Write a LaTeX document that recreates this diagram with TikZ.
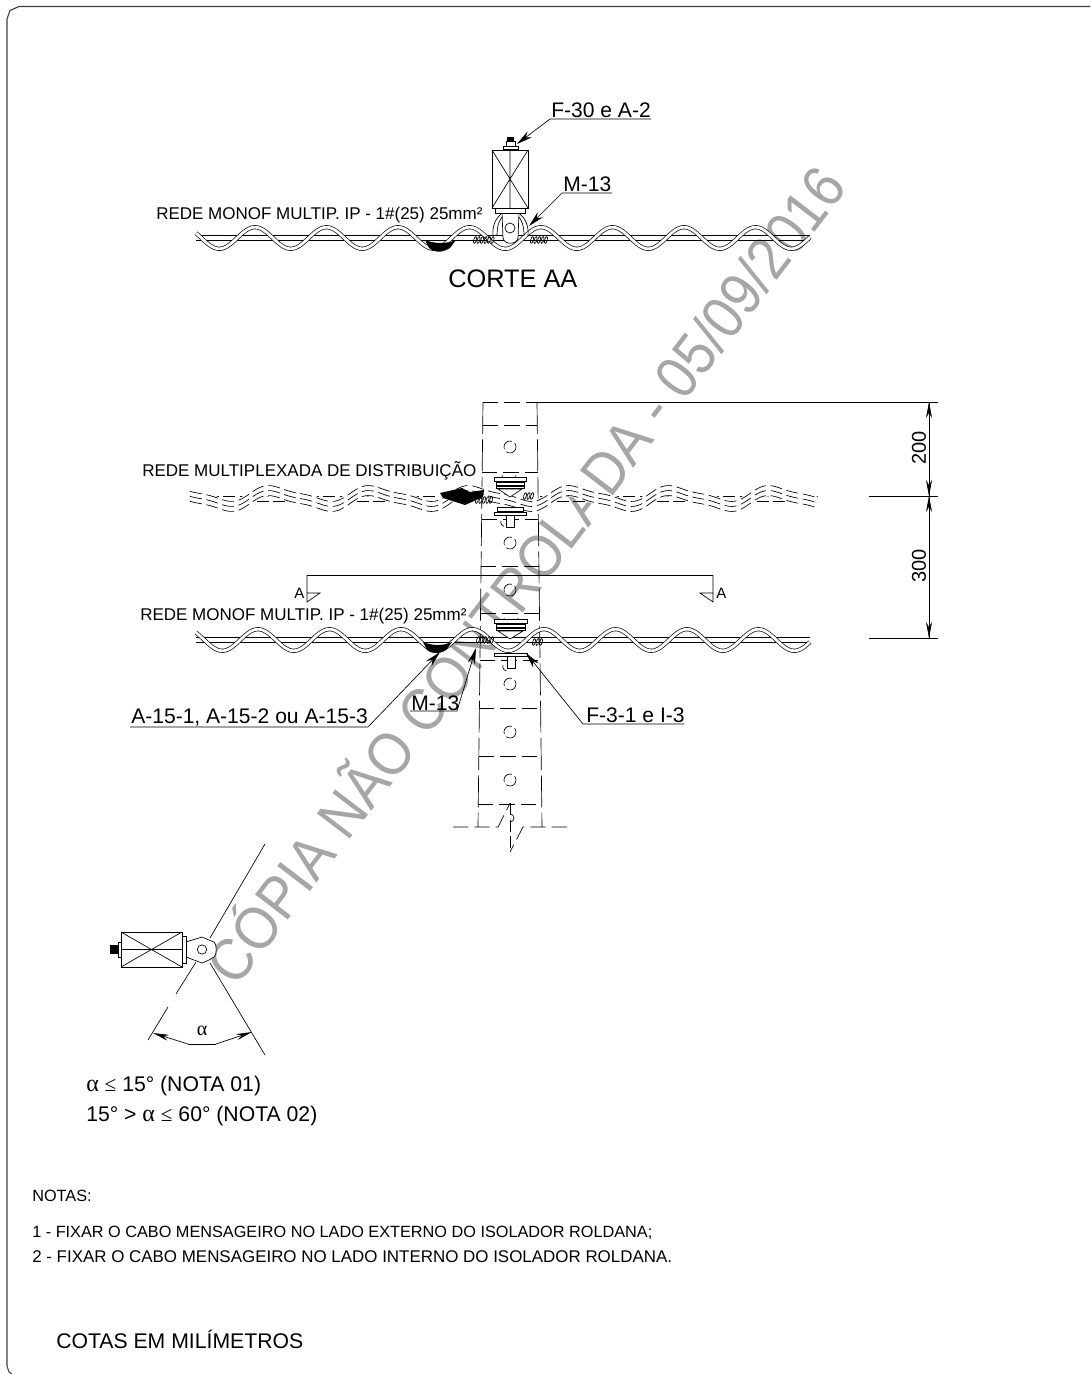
\documentclass[tikz,border=0pt]{standalone}
\usepackage{fontspec}
\setmainfont{Liberation Sans}
\newfontfamily\symbfont{Liberation Serif}
\usetikzlibrary{arrows.meta}
\tikzstyle{thin line}=[line width=0.5pt, black]
\tikzstyle{part}=[line width=0.5pt, black, fill=white]
\tikzstyle{pole}=[line width=0.5pt, black, dash pattern=on 24pt off 4pt]
\tikzstyle{bar}=[line width=0.5pt, black, dash pattern=on 11.5pt off 4.5pt]
\tikzstyle{hole}=[line width=0.5pt, black, dash pattern=on 10pt off 2.5pt]
\tikzstyle{strand}=[line width=0.5pt, black, dash pattern=on 9pt off 3.5pt]
\tikzstyle{wave}=[double=white, double distance=2.1pt, line width=0.5pt, black]
\tikzstyle{leader}=[line width=0.5pt, black, -{Stealth[length=12pt,width=5.5pt]}]
\tikzstyle{dim}=[line width=0.5pt, black, -{Stealth[length=12pt,width=4.5pt]}]
\tikzstyle{callout}=[inner sep=0pt, anchor=base west, font=\fontsize{15.8}{16}\selectfont]
\tikzstyle{small}=[inner sep=0pt, anchor=west, font=\fontsize{12.75}{14}\selectfont]
\tikzstyle{note}=[inner sep=0pt, anchor=west, font=\fontsize{12.2}{14}\selectfont]
\tikzstyle{big}=[inner sep=0pt, anchor=west, font=\fontsize{15.9}{18}\selectfont]
\tikzstyle{sectionmark}=[inner sep=0pt, anchor=west, font=\fontsize{11.25}{12}\selectfont]
\newcommand{\callout}{\node[callout]}
\newcommand{\coilrun}[4]{\foreach \cx in {#1,#2,...,#3} \draw[thin line] (\cx,#4) ellipse [x radius=1.3, y radius=3.5, rotate=-15];}
\newcommand{\monofwave}[2]{%
  \draw[wave] plot[domain=196:810, samples=260] (\x, {#1-10.8*cos((\x-#2)/71.5*360)});}
\begin{document}
\begin{tikzpicture}[x=0.75pt, y=-0.75pt]
\useasboundingbox (0,0) rectangle (1090,1374);
\fill[white] (0,0) rectangle (1090,1374);

\node[rotate=52.6, xscale=0.9, inner sep=0pt, text=black!35, font=\fontsize{45}{45}\selectfont] (copia) at (522,572) {CÓPIA NÃO CONTROLADA - 05/09/2016};

\coordinate (framea) at (7,1374);
\coordinate (frameb) at (1090,6.5);
\draw[line width=0.8pt, black!75] (framea) ++(5,0) -- ++(-3,-2) -- ++(-2,-6) -- (7,19) -- (10,10.5) -- (19,6.5) -- (frameb);

% corte AA
\draw[thin line] (196,235.5) -- (810,235.5) (196,240) -- (810,240);
\monofwave{238}{255}
\fill[black] (425,240) .. controls (435,244) and (447,244) .. (456,240) -- (450,248) .. controls (442,253) and (434,253) .. (429,248) -- cycle;
\coilrun{475}{478.5}{493}{240}
\coilrun{532}{535.5}{546}{240}
\draw[thin line] (493,236) .. controls (492,226) and (496,218) .. (501,214);
\draw[thin line] (497,236) .. controls (497,226) and (499,220) .. (503,216);
\draw[thin line] (528,236) .. controls (529,226) and (525,218) .. (520,214);
\draw[thin line] (524,236) .. controls (524,226) and (522,220) .. (518,216);
\draw[part] (502,212) -- (503,238) .. controls (504,245) and (517,245) .. (518,238) -- (519,212) -- cycle;
\node[draw, circle, thin line, minimum size=7.5pt, inner sep=0pt] (pinaa) at (510,228) {};
\draw[part] (495,208) rectangle (525,213);
\draw[part] (492,150) rectangle (528,208);
\draw[thin line] (492,150) -- (528,208) (528,150) -- (492,208) (510,150) -- (510,208);
\draw[part] (503,146.5) rectangle (518,149.5);
\draw[part] (506,141) rectangle (515,146.5);
\fill[black] (507,137) rectangle (514,141);

\coordinate (f30tip) at (517,144);
\coordinate (f30bend) at (550,119);
\coordinate (f30end) at (651,119);
\coordinate (m13tip) at (529,226);
\coordinate (m13bend) at (562,193);
\coordinate (m13end) at (612,193);
\draw[leader] (f30end) -- (f30bend) -- (f30tip);
\draw[leader] (m13end) -- (m13bend) -- (m13tip);
\callout (f30) at (551,117) {F-30 e A-2};
\callout (m13) at (563,191) {M-13};
\node[small] (redeaa) at (156,215) {REDE MONOF MULTIP. IP - 1\#(25) 25mm²};
\node[inner sep=0pt, anchor=west, font=\fontsize{19}{20}\selectfont] (corte) at (448,279) {CORTE AA};

% poste
\draw[pole] (483,402) -- (478,827);
\draw[pole] (537,402) -- (542,827);
\draw[bar] (483,402) -- (537,402);
\foreach \y/\xa/\xb in {425/483/537,472/482/538,519/482/538,566/481/539,613/481/539,660/480/540,708/479/541,756/479/541,804/478/542}
  \draw[bar] (\xa,\y) -- (\xb,\y);
\foreach \y in {447,543,590,684,732,780}
  \draw[hole] (510,\y) circle (6);
\draw[bar] (453,827) -- (498,827) -- (510,803);
\draw[bar] (567,827) -- (523,827) -- (510,852);
\draw[strand] (510,803) -- (510,852);
\draw[thin line] (510,822) arc (90:-90:4);

% cabo multiplexado
\draw[strand] (190,496) -- (440,496) (540,496) -- (818,496);
\draw[strand] (190,501) -- (440,501) (540,501) -- (818,501);
\draw[white, line width=9pt] plot[domain=190:818, samples=220] (\x, {498.5-7*(cos((\x-275)/100*360)-0.3*sin((\x-275)/50*360))});
\foreach \d in {-5,0,5}
  \draw[strand] plot[domain=190:818, samples=220] (\x, {498.5+\d-7*(cos((\x-275)/100*360)-0.3*sin((\x-275)/50*360))});

% isolador superior
\draw[part] (502,475) arc (180:0:7);
\draw[part] (494,477) rectangle (526,481);
\draw[part] (496,482) rectangle (524,485);
\draw[part] (496,486) rectangle (524,488);
\draw[part] (498,489) -- (522,489) -- (510,497) -- cycle;
\draw[part] (494,512) rectangle (526,515);
\draw[part] (497,507) rectangle (523,511);
\draw[thin line] (501,521) arc (200:100:4);
\draw[part] (506,515) rectangle (514,527);
\fill[black] (440,493) -- (462,488) -- (470,492) -- (484,490) -- (483,497) -- (465,505) -- (443,498) -- cycle;
\coilrun{477}{480.5}{493}{500}
\coilrun{525}{528.5}{535}{496}

% isolador inferior
\draw[thin line] (196,637.5) -- (810,637.5) (196,642) -- (810,642);
\draw[part] (504,618) arc (180:0:7);
\draw[part] (494,619) rectangle (527,623);
\draw[part] (496,624) rectangle (525,627);
\draw[part] (496,628) rectangle (525,630);
\draw[part] (498,631) -- (523,631) -- (510,639) -- cycle;
\draw[part] (494,653) rectangle (527,656);
\draw[thin line] (503,665) arc (200:100:4.5);
\draw[part] (507,656) rectangle (515,668);
\monofwave{640}{258}
\fill[black] (423,642) .. controls (433,646) and (443,646) .. (452,642) -- (446,650) .. controls (440,654) and (431,654) .. (427,650) -- cycle;
\coilrun{478}{481.5}{492}{640}
\coilrun{534}{537.5}{542}{642}

\coordinate (a15tip) at (440,652);
\coordinate (a15bend) at (368,727);
\coordinate (a15end) at (130,727);
\coordinate (m13ltip) at (476,648);
\coordinate (m13lbend) at (457,711);
\coordinate (m13lend) at (410,711);
\coordinate (f31tip) at (526,653);
\coordinate (f31bend) at (583,724);
\coordinate (f31end) at (684,724);
\draw[leader] (a15end) -- (a15bend) -- (a15tip);
\draw[leader] (m13lend) -- (m13lbend) -- (m13ltip);
\draw[leader] (f31end) -- (f31bend) -- (f31tip);
\callout (a15) at (131,723) {A-15-1, A-15-2 ou A-15-3};
\callout (m13l) at (411,710) {M-13};
\callout (f31) at (586,722.5) {F-3-1 e I-3};
\node[small] (multi) at (142,471) {REDE MULTIPLEXADA DE DISTRIBUIÇÃO};
\node[small] (monof) at (140,616) {REDE MONOF MULTIP. IP - 1\#(25) 25mm²};

% corte
\coordinate (cortea) at (307,575);
\coordinate (corteb) at (713,575);
\draw[thin line] (cortea) -- (corteb);
\draw[thin line] (cortea) -- (307,602) -- (320,593) -- (307,593);
\draw[thin line] (corteb) -- (713,602) -- (700,593) -- (713,593);
\node[sectionmark] (marka) at (294,593) {A};
\node[sectionmark] (markb) at (716,593) {A};

% cotas
\coordinate (dimtop) at (929,402);
\coordinate (dimmid) at (929,496);
\coordinate (dimbot) at (929,638);
\draw[thin line] (537,402) -- (938,402);
\draw[thin line] (869,496) -- (938,496);
\draw[thin line] (869,638) -- (938,638);
\draw[dim] (dimmid) -- (dimtop);
\draw[dim] (dimtop) -- (dimmid);
\draw[dim] (dimbot) -- (dimmid);
\draw[dim] (dimmid) -- (dimbot);
\node[rotate=90, inner sep=0pt, font=\fontsize{15}{16}\selectfont] (dima) at (919,448) {200};
\node[rotate=90, inner sep=0pt, font=\fontsize{15}{16}\selectfont] (dimb) at (919,566) {300};

% isolador inclinado
\coordinate (linea) at (265,844);
\coordinate (lineb) at (210,938);
\coordinate (linec) at (196,962);
\coordinate (lined) at (176,994);
\coordinate (linee) at (168,1007);
\coordinate (linef) at (148,1040);
\coordinate (lineg) at (210,963);
\coordinate (lineh) at (265,1055);
\draw[thin line] (linea) -- (lineb) (linec) -- (lined) (linee) -- (linef) (lineg) -- (lineh);
\draw[part] (186,942) -- (202,937) -- (209,940) -- (214,942) .. controls (217,944) and (217,955) .. (214,957) -- (209,960) -- (202,963) -- (186,957) -- cycle;
\node[draw, circle, thin line, minimum size=7pt, inner sep=0pt] (pinb) at (202,949.5) {};
\draw[part] (182,936) rectangle (186,963);
\draw[part] (121,932) rectangle (182,967);
\draw[thin line] (121,932) -- (182,967) (121,967) -- (182,932) (121,949.5) -- (182,949.5);
\draw[part] (118,942) rectangle (121,957);
\fill[black] (110,945) rectangle (118,954);
\coordinate (arca) at (153,1033);
\coordinate (arcb) at (188,1044);
\coordinate (arcc) at (216,1044);
\coordinate (arcd) at (252,1032);
\draw[dim] (arcb) -- (arca);
\draw[thin line] (arcb) -- (arcc);
\draw[dim] (arcc) -- (arcd);
\node[inner sep=0pt, font=\symbfont\fontsize{15}{16}\selectfont] (alfa) at (202,1031) {α};

\node[big] (notaa) at (86,1085.5) {{\symbfont\fontsize{18}{18}\selectfont α} {\symbfont ≤} 15° (NOTA 01)};
\node[big] (notab) at (86,1115.5) {15° > {\symbfont\fontsize{18}{18}\selectfont α} {\symbfont ≤} 60° (NOTA 02)};
\node[note] (notas) at (32,1196) {NOTAS:};
\node[note] (notac) at (32,1233) {1 - FIXAR O CABO MENSAGEIRO NO LADO EXTERNO DO ISOLADOR ROLDANA;};
\node[note, font=\fontsize{12.7}{14}\selectfont] (notad) at (32,1257) {2 - FIXAR O CABO MENSAGEIRO NO LADO INTERNO DO ISOLADOR ROLDANA.};
\node[big] (cotas) at (56,1339) {COTAS EM MILÍMETROS};
\end{tikzpicture}
\end{document}
